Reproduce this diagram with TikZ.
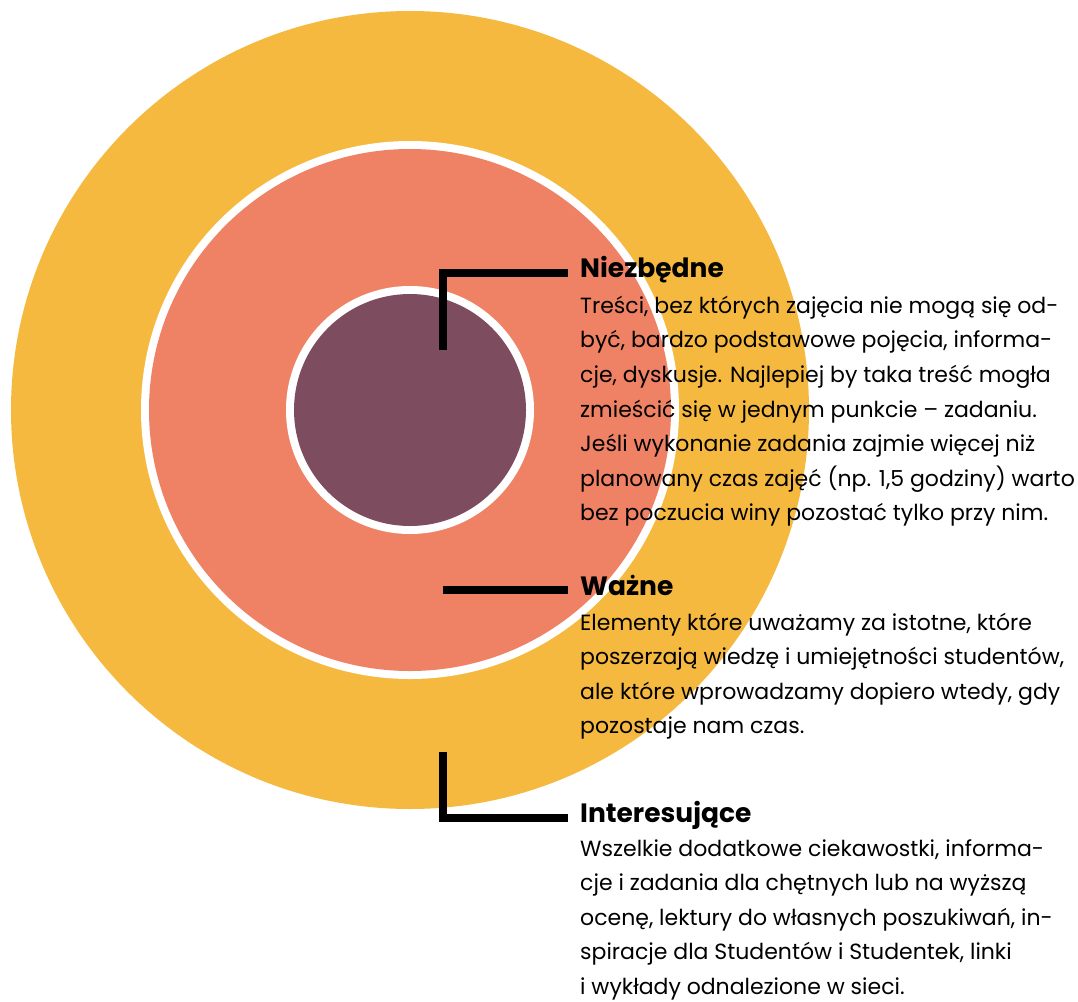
\documentclass[tikz,border=0pt]{standalone}
\usepackage{fontspec}
\setmainfont{Poppins}
\definecolor{ringyellow}{HTML}{F6B93F}
\definecolor{ringsalmon}{HTML}{EF8265}
\definecolor{coreplum}{HTML}{7E4C5F}
% a top-aligned paragraph, so that the node's base is its first line
\newcommand\descr[1]{\parbox[t]{500pt}{\raggedright #1}}
\begin{document}
\begin{tikzpicture}[x=1pt,y=-1pt,
  bracket/.style={line width=8pt,black,line cap=butt,line join=miter},
  head/.style={anchor=base west,inner sep=0pt,font=\fontsize{26.5}{35}\bfseries\selectfont},
  body/.style={anchor=base west,inner sep=0pt,font=\fontsize{22}{34.6}\selectfont}]
\useasboundingbox (0,0) rectangle (1078,1001);
% concentric rings
\fill[ringyellow] (410,410) circle[radius=399];
\fill[white] (410,410) circle[radius=269];
\fill[ringsalmon] (410,410) circle[radius=261];
\fill[white] (410,410) circle[radius=124];
\fill[coreplum] (410,410) circle[radius=116];
% headings
\node[head] (h1) at (580,277.5) {Niezbędne};
\node[head] (h2) at (580,595.5) {Ważne};
\node[head] (h3) at (580,822.3) {Interesujące};
% descriptions
\node[body] (b1) at (580,313.3) {\descr{Treści, bez których zajęcia nie mogą się od-\\
być, bardzo podstawowe pojęcia, informa-\\
cje, dyskusje. Najlepiej by taka treść mogła\\
zmieścić się w jednym punkcie – zadaniu.\\
Jeśli wykonanie zadania zajmie więcej niż\\
planowany czas zajęć (np. 1,5 godziny) warto\\
bez poczucia winy pozostać tylko przy nim.}};
\node[body] (b2) at (580,630) {\descr{Elementy które uważamy za istotne, które\\
poszerzają wiedzę i umiejętności studentów,\\
ale które wprowadzamy dopiero wtedy, gdy\\
pozostaje nam czas.}};
\node[body] (b3) at (580,856) {\descr{Wszelkie dodatkowe ciekawostki, informa-\\
cje i zadania dla chętnych lub na wyższą\\
ocenę, lektury do własnych poszukiwań, in-\\
spiracje dla Studentów i Studentek, linki\\
i wykłady odnalezione w sieci.}};
% leader lines
\coordinate (p1) at (443,350);
\coordinate (q1) at (568,273);
\coordinate (p2) at (443,590);
\coordinate (q2) at (568,590);
\coordinate (p3) at (443,752);
\coordinate (q3) at (568,818);
\draw[bracket] (p1) |- (q1);
\draw[bracket] (p2) -- (q2);
\draw[bracket] (p3) |- (q3);
\end{tikzpicture}
\end{document}
